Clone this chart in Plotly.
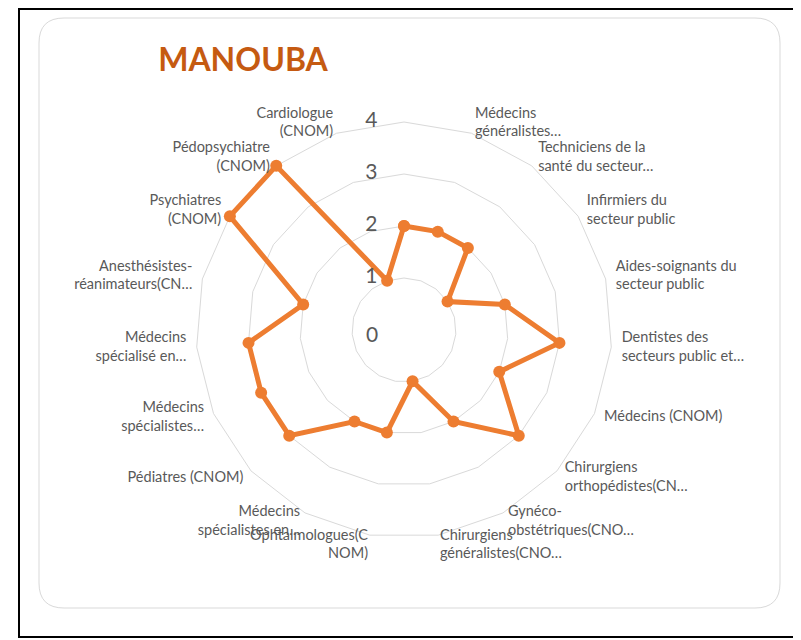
import plotly.graph_objects as go

# ---- data ----
categories = [
    "",
    "Médecins<br>généralistes…",
    "Techniciens de la<br>santé du secteur…",
    "Infirmiers du<br>secteur public",
    "Aides-soignants du<br>secteur public",
    "Dentistes des<br>secteurs public et…",
    "Médecins (CNOM)",
    "Chirurgiens<br>orthopédistes(CN…",
    "Gynéco-<br>obstétriques(CNO…",
    "Chirurgiens<br>généralistes(CNO…",
    "Ophtalmologues(C<br>NOM)",
    "Médecins<br>spécialistes en…",
    "Pédiatres (CNOM)",
    "Médecins<br>spécialistes…",
    "Médecins<br>spécialisé en…",
    "Anesthésistes-<br>réanimateurs(CN…",
    "Psychiatres<br>(CNOM)",
    "Pédopsychiatre<br>(CNOM)",
    "Cardiologue<br>(CNOM)",
]
values = [2, 2, 2, 1, 2, 3, 2, 3, 2, 1, 2, 2, 3, 3, 3, 2, 4, 4, 1]
radial_ticks = [0, 1, 2, 3, 4]
title_text = "MANOUBA"

# page is 801x640; the html body has an 8px margin
OFF = 8
W, H = 801 - OFF, 640 - OFF
cx, cy, R = 404 - OFF, 330 - OFF, 208   # R = pixel radius of the outer (value 4) ring
LABEL_GAP = 1.05  # category labels sit just outside the outer ring


def px(x):
    return (x - OFF) / W


def py(y):
    return 1 - (y - OFF) / H


n = len(categories)
rmax = radial_ticks[-1]
rlab = rmax * LABEL_GAP
Rd = R * LABEL_GAP  # domain radius so the value-4 ring keeps radius R

theta_closed = categories + [categories[0]]
r_closed = values + [values[0]]

# category label placement (Excel style: beside the outer ring, vertically centred)
label_pos = []
for i in range(n):
    a = 360.0 * i / n
    if i == 0:
        label_pos.append("top center")
    elif a < 180:
        label_pos.append("middle right")
    else:
        label_pos.append("middle left")

fig = go.Figure()
fig.add_trace(go.Scatterpolar(
    r=r_closed, theta=theta_closed,
    mode="lines+markers",
    line=dict(color="#ED7D31", width=5),
    marker=dict(color="#ED7D31", size=12),
    showlegend=False, hoverinfo="skip",
))
# category labels
fig.add_trace(go.Scatterpolar(
    r=[rlab] * n, theta=categories,
    mode="text", text=categories, textposition=label_pos,
    textfont=dict(size=14.5, color="#595959", family="Lato, Open Sans, sans-serif"),
    cliponaxis=False, showlegend=False, hoverinfo="skip",
))
# radial value labels 1..4, left of the vertical axis
fig.add_trace(go.Scatterpolar(
    r=radial_ticks[1:], theta=[categories[0]] * len(radial_ticks[1:]),
    mode="text", text=[f"{t}\u2003\u00a0\u00a0" for t in radial_ticks[1:]], textposition="middle left",
    textfont=dict(size=21, color="#595959", family="Lato, Open Sans, sans-serif"),
    cliponaxis=False, showlegend=False, hoverinfo="skip",
))

# rounded light-grey chart frame (page px)
L, T, Rr, B, rad = 39, 18, 780, 608, 25
frame_path = (
    f"M {px(L+rad)} {py(T)} L {px(Rr-rad)} {py(T)} "
    f"Q {px(Rr)} {py(T)} {px(Rr)} {py(T+rad)} "
    f"L {px(Rr)} {py(B-rad)} "
    f"Q {px(Rr)} {py(B)} {px(Rr-rad)} {py(B)} "
    f"L {px(L+rad)} {py(B)} "
    f"Q {px(L)} {py(B)} {px(L)} {py(B-rad)} "
    f"L {px(L)} {py(T+rad)} "
    f"Q {px(L)} {py(T)} {px(L+rad)} {py(T)} Z"
)

fig.update_layout(
    width=W, height=H,
    margin=dict(l=0, r=0, t=0, b=0),
    paper_bgcolor="white",
    font=dict(family="Lato, Open Sans, sans-serif", color="#595959"),
    title=dict(text="<b>" + title_text + "</b>", x=px(243), y=py(60),
               xanchor="center", yanchor="middle",
               font=dict(size=32, color="#C55A11", family="Lato, sans-serif")),
    polar=dict(
        domain=dict(x=[(cx - Rd) / W, (cx + Rd) / W], y=[(H - cy - Rd) / H, (H - cy + Rd) / H]),
        bgcolor="rgba(0,0,0,0)",
        gridshape="linear",
        radialaxis=dict(
            range=[0, rlab], tickvals=radial_ticks[1:],
            angle=90, showticklabels=False,
            showline=False, ticks="", showgrid=True, gridcolor="#D9D9D9", gridwidth=1,
        ),
        angularaxis=dict(
            direction="clockwise", rotation=90,
            showgrid=False, showline=False,
            ticks="", showticklabels=False,
        ),
    ),
    # the "0" label at the centre of the polar area (polar drops text points at r = 0)
    annotations=[
        dict(text=str(radial_ticks[0]), xref="paper", yref="paper",
             x=cx / W, y=1 - cy / H, xanchor="right", yanchor="middle",
             xshift=-24, yshift=-3, showarrow=False,
             font=dict(size=21, color="#595959", family="Lato, Open Sans, sans-serif")),
    ],
    shapes=[
        dict(type="rect", xref="paper", yref="paper",
             x0=px(19), x1=1.02, y0=py(637), y1=py(9),
             line=dict(color="black", width=2), fillcolor="rgba(0,0,0,0)", layer="below"),
        dict(type="path", xref="paper", yref="paper", path=frame_path,
             line=dict(color="#D9D9D9", width=1), layer="below"),
    ],
)

fig.write_html("out.html")
